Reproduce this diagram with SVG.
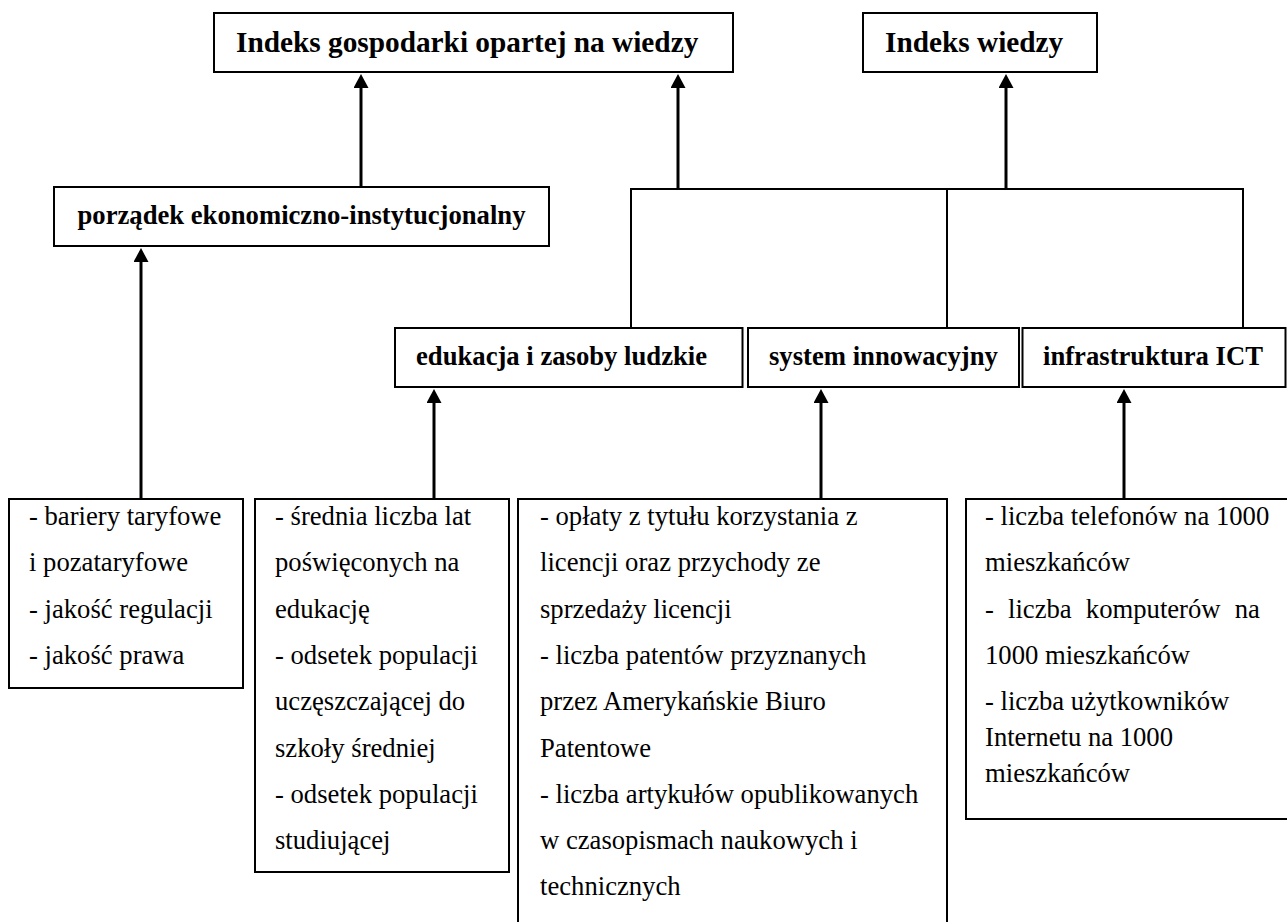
<svg xmlns="http://www.w3.org/2000/svg" width="1287" height="922" viewBox="0 0 1287 922">
  <style>
    .box { fill: #ffffff; stroke: #000000; stroke-width: 2; }
    .head { font-family: "Liberation Serif", "Times New Roman", serif; font-weight: bold; font-size: 29.3px; fill: #000000; }
    .label { font-family: "Liberation Serif", "Times New Roman", serif; font-weight: bold; font-size: 26.67px; fill: #000000; }
    .body { font-family: "Liberation Serif", "Times New Roman", serif; font-size: 26.67px; fill: #000000; }
    .arrow { fill: none; stroke: #000000; stroke-width: 3; marker-end: url(#tip); }
    .tree { fill: none; stroke: #000000; stroke-width: 2; }
  </style>
  <defs>
    <marker id="tip" markerUnits="userSpaceOnUse" markerWidth="14" markerHeight="15" refX="0" refY="7.5" orient="auto">
      <path d="M0,0 L14,7.5 L0,15 Z" fill="#000000"/>
    </marker>
  </defs>

  <rect x="0" y="0" width="1287" height="922" fill="#ffffff"/>

  <!-- connectors -->
  <g id="connectors">
    <!-- bracket joining the three pillars -->
    <path class="tree" d="M631,328 V189 H1243 V328 M947,189 V328"/>
    <!-- pillars up to the two indices -->
    <line class="arrow" x1="361" y1="187" x2="361" y2="88"/>
    <line class="arrow" x1="678" y1="189" x2="678" y2="88"/>
    <line class="arrow" x1="1006" y1="189" x2="1006" y2="88"/>
    <!-- indicator lists up to their pillars -->
    <line class="arrow" x1="141" y1="499" x2="141" y2="262"/>
    <line class="arrow" x1="434" y1="499" x2="434" y2="403"/>
    <line class="arrow" x1="821" y1="499" x2="821" y2="403"/>
    <line class="arrow" x1="1124" y1="499" x2="1124" y2="403"/>
  </g>

  <!-- indices -->
  <g id="node-igow">
    <rect class="box" x="214" y="13" width="519" height="59"/>
    <text class="head" x="236" y="52">Indeks gospodarki opartej na wiedzy</text>
  </g>
  <g id="node-iw">
    <rect class="box" x="863" y="13" width="234" height="59"/>
    <text class="head" x="885" y="52">Indeks wiedzy</text>
  </g>

  <!-- pillars -->
  <g id="node-porzadek">
    <rect class="box" x="54" y="187" width="495" height="59"/>
    <text class="label" x="301.5" y="224" text-anchor="middle">porządek ekonomiczno-instytucjonalny</text>
  </g>
  <g id="node-edukacja">
    <rect class="box" x="395" y="328" width="347.5" height="59"/>
    <text class="label" x="416" y="365">edukacja i zasoby ludzkie</text>
  </g>
  <g id="node-system">
    <rect class="box" x="748" y="328" width="271" height="59"/>
    <text class="label" x="769" y="365">system innowacyjny</text>
  </g>
  <g id="node-ict">
    <rect class="box" x="1022.5" y="328" width="263" height="59"/>
    <text class="label" x="1043" y="365">infrastruktura ICT</text>
  </g>

  <!-- indicator lists -->
  <g id="list-porzadek">
    <rect class="box" x="9" y="499" width="234" height="189"/>
    <text class="body">
      <tspan x="29" y="525">- bariery taryfowe</tspan>
      <tspan x="29" y="571">i pozataryfowe</tspan>
      <tspan x="29" y="618">- jakość regulacji</tspan>
      <tspan x="29" y="664">- jakość prawa</tspan>
    </text>
  </g>
  <g id="list-edukacja">
    <rect class="box" x="255" y="499" width="254" height="373"/>
    <text class="body">
      <tspan x="275" y="525">- średnia liczba lat</tspan>
      <tspan x="275" y="571">poświęconych na</tspan>
      <tspan x="275" y="618">edukację</tspan>
      <tspan x="275" y="664">- odsetek populacji</tspan>
      <tspan x="275" y="710">uczęszczającej do</tspan>
      <tspan x="275" y="757">szkoły średniej</tspan>
      <tspan x="275" y="803">- odsetek populacji</tspan>
      <tspan x="275" y="849">studiującej</tspan>
    </text>
  </g>
  <g id="list-system">
    <rect class="box" x="518" y="499" width="429" height="440"/>
    <text class="body">
      <tspan x="540" y="525">- opłaty z tytułu korzystania z</tspan>
      <tspan x="540" y="571">licencji oraz przychody ze</tspan>
      <tspan x="540" y="618">sprzedaży licencji</tspan>
      <tspan x="540" y="664">- liczba patentów przyznanych</tspan>
      <tspan x="540" y="710">przez Amerykańskie Biuro</tspan>
      <tspan x="540" y="757">Patentowe</tspan>
      <tspan x="540" y="803">- liczba artykułów opublikowanych</tspan>
      <tspan x="540" y="849">w czasopismach naukowych i</tspan>
      <tspan x="540" y="895">technicznych</tspan>
    </text>
  </g>
  <g id="list-ict">
    <rect class="box" x="966" y="499" width="330" height="320"/>
    <text class="body">
      <tspan x="985" y="525">- liczba telefonów na 1000</tspan>
      <tspan x="985" y="571">mieszkańców</tspan>
      <tspan x="985" y="618" word-spacing="7.5">- liczba komputerów na</tspan>
      <tspan x="985" y="664">1000 mieszkańców</tspan>
      <tspan x="985" y="710">- liczba użytkowników</tspan>
      <tspan x="985" y="746">Internetu na 1000</tspan>
      <tspan x="985" y="782">mieszkańców</tspan>
    </text>
  </g>
</svg>
